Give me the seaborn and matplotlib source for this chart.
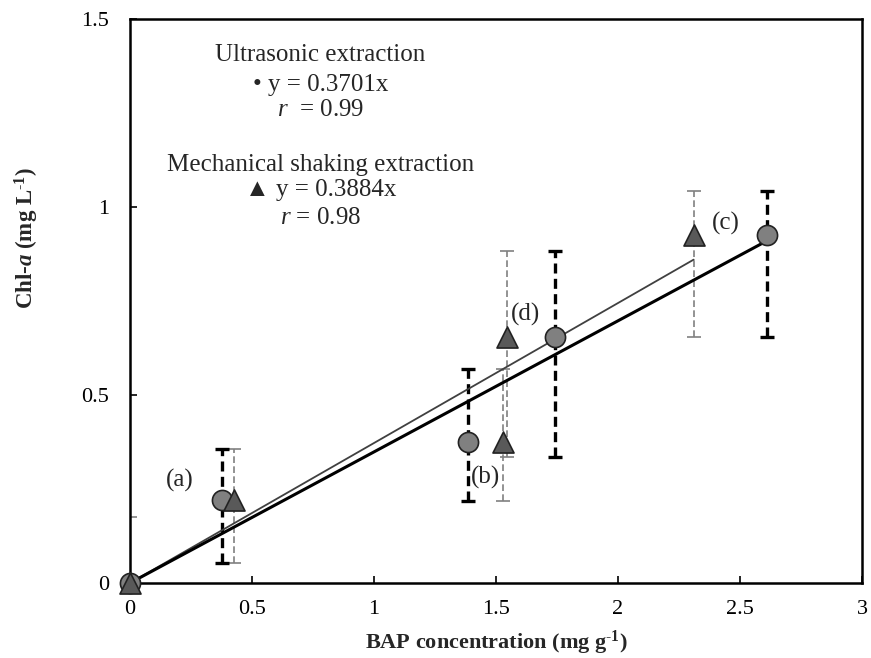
import numpy as np
import pandas as pd
import matplotlib
matplotlib.use("Agg")
import matplotlib.pyplot as plt
import seaborn as sns
from matplotlib.ticker import FuncFormatter

# ---------------- data ----------------
# Ultrasonic extraction (circles)
us_x = [0.0, 0.375, 1.385, 1.74, 2.61]
us_y = [0.0, 0.22, 0.375, 0.655, 0.925]
us_low = [0.0, 0.053, 0.218, 0.334, 0.653]
us_high = [0.0, 0.356, 0.569, 0.884, 1.043]

# Mechanical shaking extraction (triangles)
ms_x = [0.0, 0.425, 1.527, 1.545, 2.31]
ms_y = [0.0, 0.22, 0.375, 0.655, 0.925]
ms_low = [0.0, 0.053, 0.218, 0.335, 0.653]
ms_high = [0.175, 0.356, 0.569, 0.884, 1.043]

# fitted lines (end points as drawn)
us_fit_x = [0.0, 2.61]
us_fit_y = [0.0, 0.91]
ms_fit_x = [0.0, 2.31]
ms_fit_y = [0.0, 0.86]

labels = ["(a)", "(b)", "(d)", "(c)"]
label_x = [0.205, 1.455, 1.62, 2.44]
label_y = [0.274, 0.282, 0.713, 0.957]

x_ticks = [0, 0.5, 1, 1.5, 2, 2.5, 3]
y_ticks = [0, 0.5, 1, 1.5]

# ---------------- style ----------------
sns.set_theme(style="white")
plt.rcParams["font.family"] = ["Liberation Serif", "DejaVu Serif"]
plt.rcParams["mathtext.fontset"] = "custom"
plt.rcParams["mathtext.rm"] = "Liberation Serif"
plt.rcParams["mathtext.it"] = "Liberation Serif:italic"
plt.rcParams["mathtext.bf"] = "Liberation Serif:bold"
plt.rcParams["mathtext.bfit"] = "Liberation Serif:bold:italic"

fig = plt.figure(figsize=(8.71, 6.58), dpi=100)
ax = fig.add_axes([130 / 871, 1 - 583 / 658, (862 - 130) / 871, (583 - 19) / 658])

us = pd.DataFrame({"x": us_x, "y": us_y, "lo": us_low, "hi": us_high})
ms = pd.DataFrame({"x": ms_x, "y": ms_y, "lo": ms_low, "hi": ms_high})

# error bars
eb1 = ax.errorbar(ms["x"], ms["y"], yerr=[ms["y"] - ms["lo"], ms["hi"] - ms["y"]],
                  fmt="none", ecolor="#808080", elinewidth=1.2, capsize=5,
                  capthick=1.2, zorder=2)
eb1[2][0].set_linestyle((0, (4, 2)))
eb2 = ax.errorbar(us["x"], us["y"], yerr=[us["y"] - us["lo"], us["hi"] - us["y"]],
                  fmt="none", ecolor="black", elinewidth=2.4, capsize=5,
                  capthick=2.4, zorder=2)
eb2[2][0].set_linestyle((0, (3, 1.6)))

# fit lines
sns.lineplot(x=ms_fit_x, y=ms_fit_y, color="#404040", linewidth=1.3, ax=ax, zorder=3)
sns.lineplot(x=us_fit_x, y=us_fit_y, color="black", linewidth=2.2, ax=ax, zorder=3)

# markers
sns.scatterplot(data=us, x="x", y="y", marker="o", s=210, color="#808080",
                edgecolor="#222222", linewidth=1.2, ax=ax, zorder=4, clip_on=False)
sns.scatterplot(data=ms, x="x", y="y", marker="^", s=230, color="#595959",
                edgecolor="#222222", linewidth=1.2, ax=ax, zorder=5, clip_on=False)

for t, lx, ly in zip(labels, label_x, label_y):
    ax.text(lx, ly, t, fontsize=18, ha="center", va="center", zorder=6)

# equation annotations
cx = 0.78
fs = 18
ax.text(cx, 1.404, "Ultrasonic extraction", fontsize=fs, ha="center", va="center")
ax.text(cx, 1.324, "\u2022 y = 0.3701x", fontsize=fs, ha="center", va="center")
ax.text(cx, 1.258, "$\\mathit{r}$  = 0.99", fontsize=fs, ha="center", va="center")
ax.text(cx, 1.112, "Mechanical shaking extraction", fontsize=fs, ha="center", va="center")
ax.text(cx, 1.045, "\u25b2 y = 0.3884x", fontsize=fs, ha="center", va="center")
ax.text(cx, 0.971, "$\\mathit{r}$ = 0.98", fontsize=fs, ha="center", va="center")

ax.set_xlim(0, 3)
ax.set_ylim(0, 1.5)
ax.set_xticks(x_ticks)
ax.set_yticks(y_ticks)
fmt = FuncFormatter(lambda v, p: f"{v:g}")
ax.xaxis.set_major_formatter(fmt)
ax.yaxis.set_major_formatter(fmt)
ax.tick_params(axis="both", direction="in", length=5, width=1.2, labelsize=16,
               colors="black", bottom=True, left=True)
ax.tick_params(axis="x", pad=12)
ax.tick_params(axis="y", pad=15)

for sp in ax.spines.values():
    sp.set_color("black")
    sp.set_linewidth(1.8)
    sp.set_visible(True)

ax.set_xlabel("BAP concentration (mg g$^{\\mathbf{\\text{-}1}}$)", fontsize=16,
              fontweight="bold", labelpad=7)
ax.set_ylabel("Chl-$\\mathbfit{a}$ (mg L$^{\\mathbf{\\text{-}1}}$)", fontsize=16.5,
              fontweight="bold")
ax.yaxis.set_label_coords((41 - 130) / 732, (583 - 238) / 564)
ax.grid(False)

fig.savefig("out.png", dpi=100)
